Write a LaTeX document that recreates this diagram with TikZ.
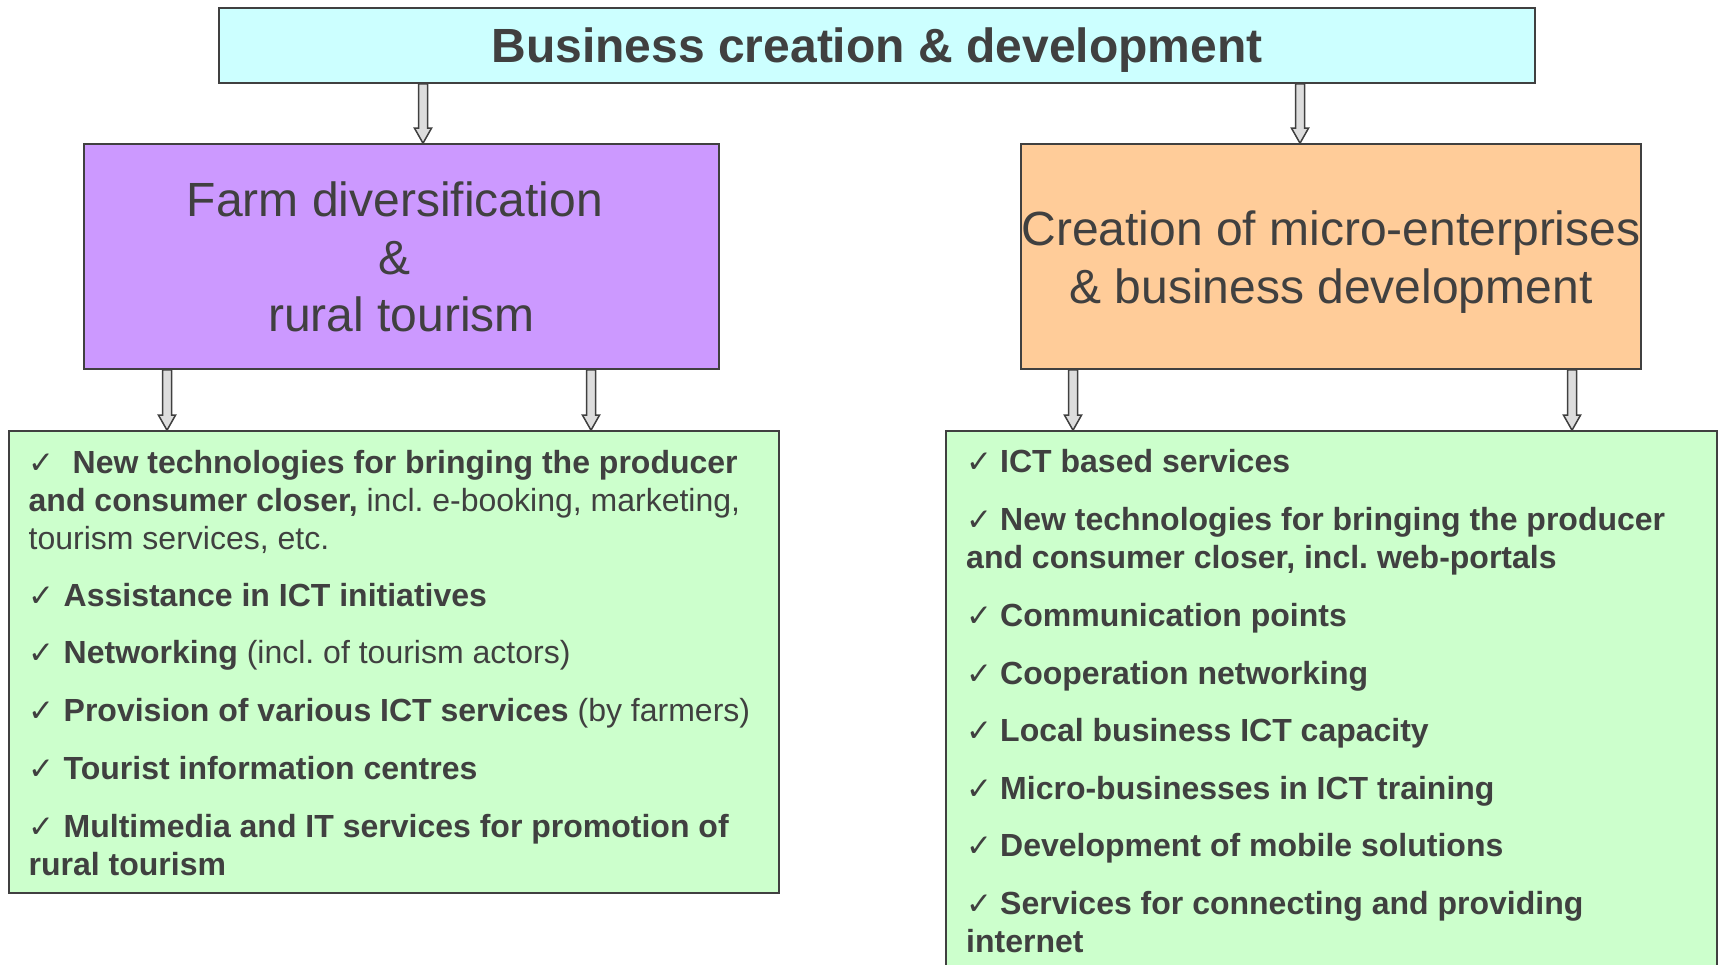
\documentclass[tikz,border=0pt]{standalone}
\usepackage{fontspec}
\setmainfont{Liberation Sans}
\newfontfamily\dejavu{DejaVu Sans}
\usetikzlibrary{calc}
\frenchspacing
\definecolor{txt}{RGB}{64,64,64}
\definecolor{boxline}{RGB}{64,64,64}
\definecolor{cyanbox}{RGB}{204,255,255}
\definecolor{purplebox}{RGB}{204,153,255}
\definecolor{orangebox}{RGB}{255,204,153}
\definecolor{greenbox}{RGB}{204,255,204}
\definecolor{arrowfill}{RGB}{221,221,221}
\newcommand\ck[1]{\makebox[#1][l]{{\dejavu\fontsize{31}{31}\selectfont ✓}}}
\newcommand\barrow[3]{\draw[barrowstyle] let \p1=(#1.south), \p2=(#2.north) in
  (#3pt-4.5pt,\y1) -- (#3pt-4.5pt,\y2+15pt) -- (#3pt-8.5pt,\y2+15pt) -- (#3pt,\y2)
  -- (#3pt+8.5pt,\y2+15pt) -- (#3pt+4.5pt,\y2+15pt) -- (#3pt+4.5pt,\y1) -- cycle;}
\begin{document}
\begin{tikzpicture}[x=1pt,y=-1pt,
  box/.style={draw=boxline, line width=1.6pt, inner sep=0pt, text=txt},
  bigtext/.style={anchor=base, inner sep=0pt, text=txt,
    font=\fontsize{48}{57.5}\selectfont, align=center},
  item/.style={anchor=base west, inner sep=0pt, text=txt, align=left,
    font=\fontsize{32}{38}\selectfont},
  barrowstyle/.style={draw=boxline, fill=arrowfill, line width=1.5pt, line join=miter}]
\useasboundingbox (0,0) rectangle (1719,965);
\clip (0,0) rectangle (1719,965);

\node[box, fill=cyanbox, minimum width=1316pt, minimum height=75pt] (title) at (877,45.5) {};
\node[bigtext, font=\fontsize{48}{57.5}\selectfont\bfseries] (titletext) at (877,62.5)
  {Business creation \& development};

\node[box, fill=purplebox, minimum width=635pt, minimum height=225pt] (farm) at (401.5,256.5) {};
\node[bigtext] (farmtext) at (401.5,332)
  {Farm diversification\kern13pt\\ \&\kern13pt\\ rural tourism};

\node[box, fill=orangebox, minimum width=620pt, minimum height=225pt] (micro) at (1331,256.5) {};
\node[bigtext] (microtext) at (1331,303.5)
  {Creation of micro-enterprises\\ \& business development};

\node[box, fill=greenbox, minimum width=770pt, minimum height=462pt]
  (left) at (394,662) {};
\node[box, fill=greenbox, minimum width=771pt, minimum height=580pt]
  (right) at (1331.5,721) {};

\barrow{title}{farm}{423}
\barrow{title}{micro}{1300}
\barrow{farm}{left}{167}
\barrow{farm}{left}{591}
\barrow{micro}{right}{1073}
\barrow{micro}{right}{1572}

% left items (anchor = baseline of the last line)
\node[item] (l1) at (28.5,549) {\ck{44pt}\textbf{New technologies for bringing the producer}\\
  \textbf{and consumer closer,} incl. e-booking, marketing,\\ tourism services, etc.};
\node[item] (l2) at (28.5,606) {\ck{35pt}\textbf{Assistance in ICT initiatives}};
\node[item] (l3) at (28.5,663) {\ck{35pt}\textbf{Networking} (incl. of tourism actors)};
\node[item] (l4) at (28.5,721) {\ck{35pt}\textbf{Provision of various ICT services} (by farmers)};
\node[item] (l5) at (28.5,779) {\ck{35pt}\textbf{Tourist information centres}};
\node[item] (l6) at (28.5,875) {\ck{35pt}\textbf{Multimedia and IT services for promotion of}\\
  \textbf{rural tourism}};

% right items
\node[item] (r1) at (966,472) {\ck{34pt}\textbf{ICT based services}};
\node[item] (r2) at (966,568) {\ck{34pt}\textbf{New technologies for bringing the producer}\\
  \textbf{and consumer closer, incl. web-portals}};
\node[item] (r3) at (966,626) {\ck{34pt}\textbf{Communication points}};
\node[item] (r4) at (966,684) {\ck{34pt}\textbf{Cooperation networking}};
\node[item] (r5) at (966,741) {\ck{34pt}\textbf{Local business ICT capacity}};
\node[item] (r6) at (966,799) {\ck{34pt}\textbf{Micro-businesses in ICT training}};
\node[item] (r7) at (966,856) {\ck{34pt}\textbf{Development of mobile solutions}};
\node[item] (r8) at (966,952) {\ck{34pt}\textbf{Services for connecting and providing}\\
  \textbf{internet}};
\end{tikzpicture}
\end{document}
